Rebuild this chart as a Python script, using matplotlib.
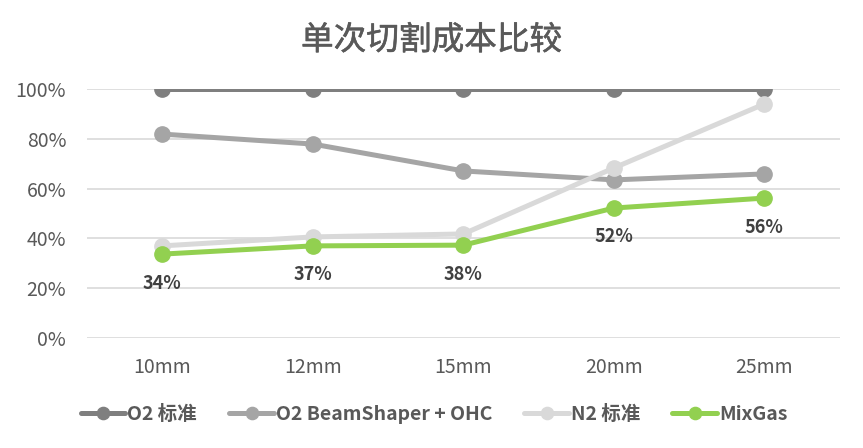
import matplotlib.pyplot as plt
import matplotlib.patheffects as pe

plt.rcParams['font.family'] = ['Noto Sans CJK SC', 'DejaVu Sans']

categories = ['10mm', '12mm', '15mm', '20mm', '25mm']
o2_std = [1.00, 1.00, 1.00, 1.00, 1.00]
o2_beam = [0.819, 0.779, 0.671, 0.635, 0.659]
n2_std = [0.37, 0.406, 0.418, 0.683, 0.94]
mixgas = [0.337, 0.37, 0.373, 0.522, 0.562]
mix_labels = ['34%', '37%', '38%', '52%', '56%']

series = [
    ('O2 标准', o2_std, '#7f7f7f'),
    ('O2 BeamShaper + OHC', o2_beam, '#a5a5a5'),
    ('N2 标准', n2_std, '#d9d9d9'),
    ('MixGas', mixgas, '#92d050'),
]

fig = plt.figure(figsize=(8.63, 4.48), dpi=100)
ax = fig.add_axes([0.1008, 0.2455, 0.8722, 0.5558])

x = range(len(categories))
for name, vals, col in series:
    ax.plot(x, vals, color=col, linewidth=3.6, marker='o', markersize=11,
            label=name, solid_capstyle='round', zorder=3)

# data labels under the MixGas points
for i, (v, lab) in enumerate(zip(mixgas, mix_labels)):
    ax.annotate(lab, (i, v), xytext=(0, -14), textcoords='offset points',
                ha='center', va='top', fontsize=13, fontweight='bold',
                color='#404040')

ax.set_xlim(-0.5, len(categories) - 0.5)
ax.set_ylim(0, 1.0)
ax.set_yticks([0, 0.2, 0.4, 0.6, 0.8, 1.0])
ax.set_yticklabels(['0%', '20%', '40%', '60%', '80%', '100%'])
ax.set_xticks(list(x))
ax.set_xticklabels(categories)
ax.tick_params(length=0, labelsize=14, colors='#595959')
ax.tick_params(axis='y', pad=15)
ax.tick_params(axis='x', pad=14)
ax.grid(axis='y', color='#d9d9d9', linewidth=1.2, zorder=0)
for s in ax.spines.values():
    s.set_visible(False)
ax.set_axisbelow(True)

title = fig.suptitle('单次切割成本比较', fontsize=23.5, color='#595959', y=0.945)
title.set_path_effects([pe.withStroke(linewidth=0.4, foreground='#595959')])

leg = fig.legend(loc='center', bbox_to_anchor=(0.503, 0.075), ncol=4,
                 frameon=False, handlelength=2.3, markerscale=0.8,
                 columnspacing=1.65, handletextpad=0.1,
                 prop={'size': 14, 'weight': 'bold'})
for t in leg.get_texts():
    t.set_color('#595959')

plt.savefig('out.png', dpi=100)
